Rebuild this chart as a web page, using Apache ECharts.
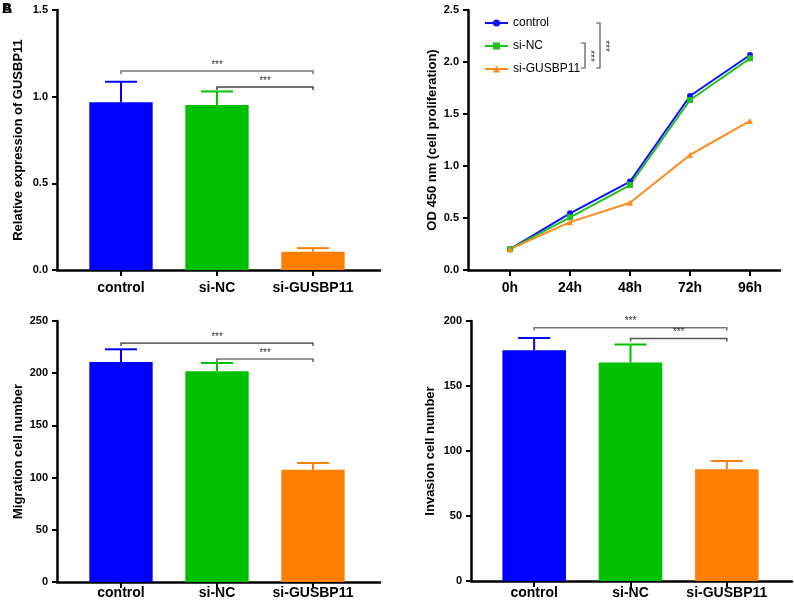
<!DOCTYPE html>
<html>
<head>
<meta charset="utf-8">
<script src="https://cdn.jsdelivr.net/npm/echarts@6/dist/echarts.min.js"></script>
<style>
  html, body { margin: 0; padding: 0; background: #fff; }
  #chart { width: 794px; height: 606px; }
</style>
</head>
<body>
<div id="chart"></div>
<script>
// Data
const groups = ['control', 'si-NC', 'si-GUSBP11'];
const groupColors = ['#0000ff', '#00c000', '#ff8000'];

// A: relative expression (mean, upper SD)
const exprMean = [0.968, 0.952, 0.106];
const exprErr = [0.118, 0.078, 0.02];
const exprBrackets = [[0, 2, 1.148], [1, 2, 1.056]];

// B: CCK-8 growth curves
const timePoints = ['0h', '24h', '48h', '72h', '96h'];
const odControl = [0.20, 0.545, 0.85, 1.673, 2.067];
const odSiNC = [0.20, 0.507, 0.817, 1.635, 2.035];
const odSiGUSBP11 = [0.20, 0.46, 0.647, 1.106, 1.433];

// C: migration
const migMean = [210.7, 201.8, 107.6];
const migErr = [12.2, 8.0, 6.4];
const migBrackets = [[0, 2, 228.9], [1, 2, 213.6]];

// D: invasion
const invMean = [177.5, 168.0, 86.0];
const invErr = [9.5, 13.9, 6.4];
const invBrackets = [[0, 2, 194.9], [1, 2, 186.5]];

const FONT = 'Liberation Sans, Arial, sans-serif';
const chart = echarts.init(document.getElementById('chart'));

const grids = [];
const xAxes = [];
const yAxes = [];
const series = [];

// y axis shown in the "frame" grid, bars live in an inner grid
function frameAxes(box, yMin, yMax, step, digits, name, nameGap) {
    const gi = grids.length;
    grids.push({ left: box.left, top: box.top, width: box.width, height: box.height });
    xAxes.push({
        gridIndex: gi, type: 'value', min: 0, max: 1,
        axisLine: { show: true, lineStyle: { color: '#000', width: 2.5 } },
        axisTick: { show: false }, axisLabel: { show: false }, splitLine: { show: false }
    });
    yAxes.push({
        gridIndex: gi, type: 'value', min: yMin, max: yMax, interval: step,
        name: name, nameLocation: 'middle', nameGap: nameGap,
        nameTextStyle: { fontFamily: FONT, fontWeight: 'bold', fontSize: 13, color: '#000' },
        axisLine: { show: true, lineStyle: { color: '#000', width: 2.5 } },
        axisTick: { show: true, length: 5, lineStyle: { color: '#000', width: 2 } },
        axisLabel: {
            fontFamily: FONT, fontWeight: 'bold', fontSize: 11, color: '#000', margin: 9,
            formatter: v => v.toFixed(digits)
        },
        splitLine: { show: false }
    });
}

function innerAxes(box, cats, yMin, yMax, labelMargin) {
    const gi = grids.length;
    grids.push({ left: box.left, top: box.top, width: box.width, height: box.height });
    xAxes.push({
        gridIndex: gi, type: 'category', data: cats,
        axisLine: { show: false },
        axisTick: { show: true, alignWithLabel: true, interval: 0, length: 6, lineStyle: { color: '#000', width: 2 } },
        axisLabel: { interval: 0, fontFamily: FONT, fontWeight: 'bold', fontSize: 14, color: '#000', margin: labelMargin },
        splitLine: { show: false }
    });
    yAxes.push({ gridIndex: gi, type: 'value', min: yMin, max: yMax, show: false });
    return xAxes.length - 1;
}

function barPanel(frame, inner, mean, err, brackets, yMax, step, digits, name, nameGap, labelMargin, bracketStyle) {
    frameAxes(frame, 0, yMax, step, digits, name, nameGap);
    const ai = innerAxes(inner, groups, 0, yMax, labelMargin);
    series.push({
        type: 'bar', xAxisIndex: ai, yAxisIndex: ai, barWidth: '66%',
        data: mean.map((v, i) => ({ value: v, itemStyle: { color: groupColors[i] } })),
        silent: true, z: 2
    });
    series.push({
        type: 'custom', xAxisIndex: ai, yAxisIndex: ai, silent: true, z: 3,
        data: mean.map((v, i) => [i, v, err[i]]),
        renderItem: (params, api) => {
            const i = api.value(0);
            const base = api.coord([i, api.value(1)]);
            const top = api.coord([i, api.value(1) + api.value(2)]);
            const style = { stroke: groupColors[i], lineWidth: 2 };
            return {
                type: 'group', children: [
                    { type: 'line', shape: { x1: base[0], y1: base[1], x2: top[0], y2: top[1] }, style },
                    { type: 'line', shape: { x1: top[0] - 16, y1: top[1], x2: top[0] + 16, y2: top[1] }, style }
                ]
            };
        }
    });
    series.push({
        type: 'custom', xAxisIndex: ai, yAxisIndex: ai, silent: true, z: 4,
        data: brackets,
        renderItem: (params, api) => {
            const a = api.coord([api.value(0), api.value(2)]);
            const b = api.coord([api.value(1), api.value(2)]);
            const st = bracketStyle[params.dataIndex];
            return {
                type: 'group', children: [
                    { type: 'polyline', shape: { points: [[a[0], a[1] + 3], [a[0], a[1]], [b[0], b[1]], [b[0], b[1] + 3]] },
                      style: { stroke: st.color, lineWidth: st.width, fill: null } },
                    { type: 'text', x: (a[0] + b[0]) / 2, y: a[1] - 1,
                      style: { text: '***', fill: '#333', font: '10px ' + FONT, align: 'center', verticalAlign: 'bottom' } }
                ]
            };
        }
    });
}

// Panel A
barPanel({ left: 57, top: 10, width: 323, height: 260 }, { left: 73, top: 10, width: 288, height: 260 },
    exprMean, exprErr, exprBrackets, 1.5, 0.5, 1, 'Relative expression of GUSBP11', 32, 11,
    [{ color: '#999', width: 2 }, { color: '#444', width: 1.5 }]);

// Panel B (line chart)
frameAxes({ left: 468, top: 10, width: 312, height: 260 }, 0, 2.5, 0.5, 1, 'OD 450 nm (cell proliferation)', 29);
const bi = innerAxes({ left: 480, top: 10, width: 300, height: 260 }, timePoints, 0, 2.5, 11);
const lineSets = [
    { name: 'control', data: odControl, color: '#1010ff', symbol: 'circle' },
    { name: 'si-NC', data: odSiNC, color: '#20c020', symbol: 'rect' },
    { name: 'si-GUSBP11', data: odSiGUSBP11, color: '#ff8a1e', symbol: 'triangle' }
];
lineSets.forEach(s => {
    series.push({
        type: 'line', name: s.name, xAxisIndex: bi, yAxisIndex: bi, data: s.data,
        symbol: s.symbol, symbolSize: 6, showSymbol: true,
        lineStyle: { color: s.color, width: 2 }, itemStyle: { color: s.color },
        silent: true, z: 3
    });
});

// Panel C
barPanel({ left: 57, top: 321, width: 323, height: 261 }, { left: 73, top: 321, width: 288, height: 261 },
    migMean, migErr, migBrackets, 250, 50, 0, 'Migration cell number', 32, 4,
    [{ color: '#333', width: 1.2 }, { color: '#333', width: 1.2 }]);

// Panel D
barPanel({ left: 471, top: 321, width: 321, height: 260 }, { left: 486, top: 321, width: 289, height: 260 },
    invMean, invErr, invBrackets, 200, 50, 0, 'Invasion cell number', 34, 5,
    [{ color: '#777', width: 1.5 }, { color: '#555', width: 1.5 }]);

// significance brackets next to the legend in panel B
const br = '#555';
const graphic = [
    { type: 'text', left: 2, top: 2, style: { text: 'A', font: 'bold 14px ' + FONT, fill: '#000' } },
    { type: 'text', left: 2, top: 2, style: { text: 'B', font: 'bold 14px ' + FONT, fill: '#000' } },
    { type: 'polyline', shape: { points: [[596, 23], [600, 23], [600, 68], [596, 68]] }, style: { stroke: br, lineWidth: 1.2, fill: null } },
    { type: 'polyline', shape: { points: [[581, 43], [585, 43], [585, 68], [581, 68]] }, style: { stroke: br, lineWidth: 1.2, fill: null } },
    { type: 'text', x: 605, y: 46, rotation: -Math.PI / 2,
      style: { text: '***', font: '10px ' + FONT, fill: '#333', align: 'center', verticalAlign: 'middle' } },
    { type: 'text', x: 590, y: 56, rotation: -Math.PI / 2,
      style: { text: '***', font: '10px ' + FONT, fill: '#333', align: 'center', verticalAlign: 'middle' } }
];

const option = {
    animation: false,
    backgroundColor: '#fff',
    textStyle: { fontFamily: FONT },
    grid: grids,
    xAxis: xAxes,
    yAxis: yAxes,
    legend: {
        data: lineSets.map(s => s.name),
        orient: 'vertical', left: 484, top: 17, padding: 0, itemGap: 11,
        itemWidth: 23, itemHeight: 9,
        textStyle: { fontFamily: FONT, fontSize: 12, color: '#000' },
        selectedMode: false
    },
    graphic: graphic,
    series: series
};
chart.setOption(option);
</script>
</body>
</html>
